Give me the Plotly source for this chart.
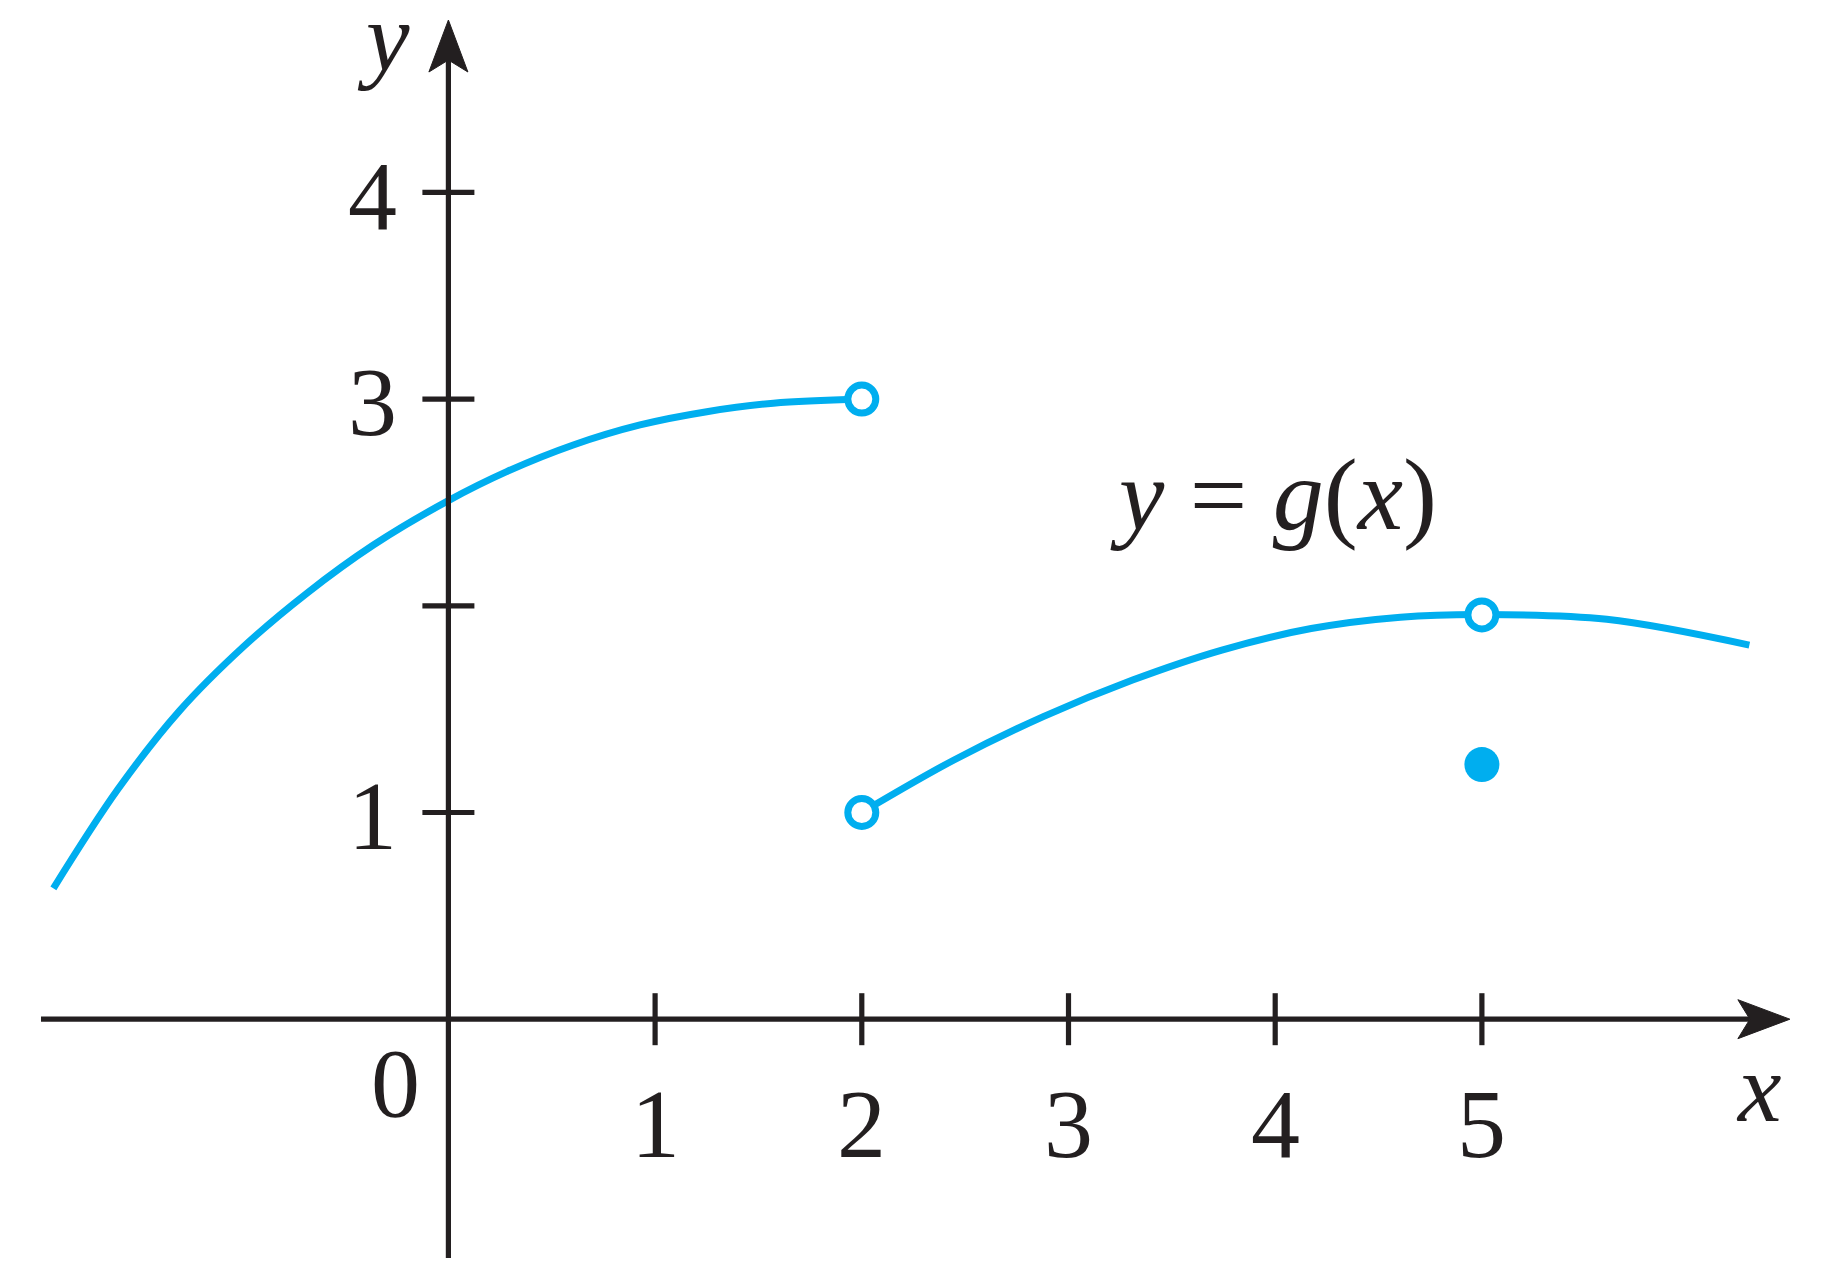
import plotly.graph_objects as go

# ---------------- data ----------------
# left branch of g (open end at x=2)
left_x = [-1.911, -1.6, -1.3, -0.992, -0.686, -0.363, 0.0, 0.282, 0.604, 0.927, 1.25, 1.572, 2.0]
left_y = [0.633, 1.111, 1.493, 1.802, 2.06, 2.294, 2.509, 2.649, 2.778, 2.875, 2.939, 2.98, 3.0]
# right branch of g
right_x = [2.0, 2.446, 2.878, 3.31, 3.742, 4.174, 4.606, 5.0, 5.604, 6.294]
right_y = [1.0, 1.254, 1.464, 1.641, 1.786, 1.89, 1.945, 1.958, 1.935, 1.81]
# open circles (holes) and the filled point
open_x = [2, 2, 5]
open_y = [3, 1, 1.956]
filled_x = [5]
filled_y = [1.232]

x_ticks = [1, 2, 3, 4, 5]
x_tick_labels = ["1", "2", "3", "4", "5"]
y_ticks = [1, 2, 3, 4]
y_tick_labels = ["1", "", "3", "4"]

x_axis_span = [-1.971, 6.49]
y_axis_span = [-1.179, 4.834]

# ---------------- style ----------------
CYAN = "#00AEEF"
INK = "#231F20"
FONT = "Liberation Serif"
UNIT = 206.7            # pixels per data unit
OX, OY = 440.4, 1011.2  # origin position inside the figure (page has 8px body margin)
W, H = 1810, 1250

fig = go.Figure()

curve_line = dict(color=CYAN, width=7, shape="spline", smoothing=1.0, simplify=False)
fig.add_trace(go.Scatter(x=left_x, y=left_y, mode="lines", line=curve_line, hoverinfo="skip"))
fig.add_trace(go.Scatter(x=right_x, y=right_y, mode="lines", line=curve_line, hoverinfo="skip"))
fig.add_trace(go.Scatter(x=open_x, y=open_y, mode="markers",
                         marker=dict(symbol="circle", size=28, color="white",
                                     line=dict(color=CYAN, width=7)),
                         hoverinfo="skip"))
fig.add_trace(go.Scatter(x=filled_x, y=filled_y, mode="markers",
                         marker=dict(symbol="circle", size=35, color=CYAN, line=dict(width=0)),
                         hoverinfo="skip"))

shapes = []
head_len = 52 / UNIT
head_half = 19.5 / UNIT
notch = 40 / UNIT
tick_half = 26 / UNIT
AXW = 5.2

# axis lines
shapes.append(dict(type="line", xref="x", yref="y", x0=x_axis_span[0], x1=x_axis_span[1] - notch,
                   y0=0, y1=0, line=dict(color=INK, width=AXW)))
shapes.append(dict(type="line", xref="x", yref="y", x0=0, x1=0,
                   y0=y_axis_span[0], y1=y_axis_span[1] - notch, line=dict(color=INK, width=AXW)))
# arrowheads
xt = x_axis_span[1]
shapes.append(dict(type="path", xref="x", yref="y",
                   path=f"M {xt},0 L {xt-head_len},{head_half} L {xt-notch},0 L {xt-head_len},{-head_half} Z",
                   fillcolor=INK, line=dict(color=INK, width=1)))
yt = y_axis_span[1]
shapes.append(dict(type="path", xref="x", yref="y",
                   path=f"M 0,{yt} L {-head_half},{yt-head_len} L 0,{yt-notch} L {head_half},{yt-head_len} Z",
                   fillcolor=INK, line=dict(color=INK, width=1)))
# ticks
for t in x_ticks:
    shapes.append(dict(type="line", xref="x", yref="y", x0=t, x1=t, y0=-tick_half, y1=tick_half,
                       line=dict(color=INK, width=AXW)))
for t in y_ticks:
    shapes.append(dict(type="line", xref="x", yref="y", y0=t, y1=t, x0=-tick_half, x1=tick_half,
                       line=dict(color=INK, width=AXW)))

annotations = []
lab_font = dict(family=FONT, size=98, color=INK)
for t, s in zip(x_ticks, x_tick_labels):
    annotations.append(dict(x=t, y=-0.507, xref="x", yref="y", text=s, showarrow=False,
                            xanchor="center", yanchor="middle", font=lab_font))
for t, s in zip(y_ticks, y_tick_labels):
    if s:
        annotations.append(dict(x=-0.24, y=t - 0.015, xref="x", yref="y", text=s, showarrow=False,
                                xanchor="right", yanchor="middle", font=lab_font))
annotations.append(dict(x=-0.256, y=-0.311, xref="x", yref="y", text="0", showarrow=False,
                        xanchor="center", yanchor="middle", font=lab_font))
annotations.append(dict(x=-0.315, y=4.75, xref="x", yref="y", text="<i>y</i>", showarrow=False,
                        xanchor="center", yanchor="middle", font=lab_font))
annotations.append(dict(x=6.34, y=-0.334, xref="x", yref="y", text="<i>x</i>", showarrow=False,
                        xanchor="center", yanchor="middle", font=lab_font))
annotations.append(dict(x=3.99, y=2.54, xref="x", yref="y",
                        text="<i>y</i> = <i>g</i>(<i>x</i>)", showarrow=False,
                        xanchor="center", yanchor="middle",
                        font=dict(family=FONT, size=102, color=INK)))

fig.update_layout(
    width=W, height=H,
    margin=dict(l=0, r=0, t=0, b=0),
    paper_bgcolor="white", plot_bgcolor="white",
    showlegend=False,
    xaxis=dict(visible=False, range=[-OX / UNIT, (W - OX) / UNIT], fixedrange=True),
    yaxis=dict(visible=False, range=[(OY - H) / UNIT, OY / UNIT], fixedrange=True),
    shapes=shapes, annotations=annotations,
)

fig.write_html("out.html", config={"displayModeBar": False})
